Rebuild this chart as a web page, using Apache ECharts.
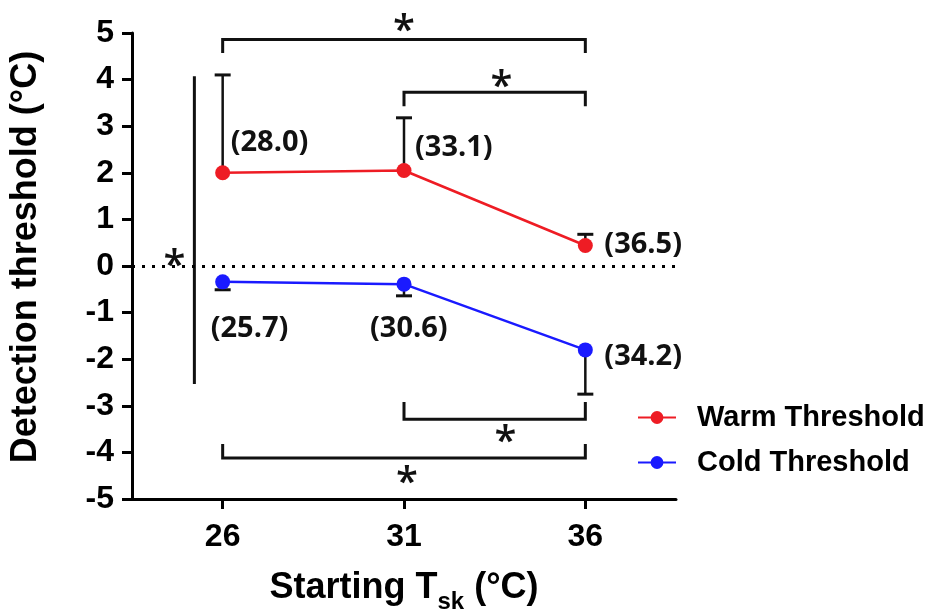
<!DOCTYPE html>
<html>
<head>
<meta charset="utf-8">
<script src="https://cdn.jsdelivr.net/npm/echarts@6/dist/echarts.min.js"></script>
<style>
  html, body { margin: 0; padding: 0; background: #fff; }
  #chart { width: 934px; height: 614px; }
</style>
</head>
<body>
<div id="chart"></div>
<script>
  // data
  const startTemps = [26, 31, 36];
  const xTicks = [26, 31, 36];
  const warmMeans = [2.0, 2.05, 0.44];
  const warmErrTop = [4.1, 3.18, 0.68];
  const coldMeans = [-0.34, -0.39, -1.8];
  const coldErrBottom = [-0.51, -0.64, -2.75];
  const warmLabels = ["(28.0)", "(33.1)", "(36.5)"];
  const coldLabels = ["(25.7)", "(30.6)", "(34.2)"];

  // significance brackets: [x from, x to, bar level, leg end]
  const brackets = [
    [26, 36, 4.86, 4.57],
    [31, 36, 3.73, 3.43],
    [31, 36, -3.29, -2.92],
    [26, 36, -4.12, -3.82],
  ];
  // asterisks [x, y]
  const stars = [[31, 5.22], [33.69, 4.02], [24.67, 0.19], [33.8, -3.6], [31.08, -4.48]];
  // vertical line between the two groups: [x, top, bottom]
  const groupLine = [25.22, 4.07, -2.53];

  // pixel offsets of the value labels from their points
  const warmOffsets = [[8, -30], [11, -23], [19, -1]];
  const coldOffsets = [[-12, 47], [-34, 45], [19, 7]];

  const FONT = "Liberation Sans";
  const RED = "#ee1c24";
  const BLUE = "#1a1aff";

  const chart = echarts.init(document.getElementById("chart"));

  function errBar(means, ends) {
    return {
      type: "custom",
      z: 1,
      silent: true,
      data: startTemps.map((x, i) => [x, means[i], ends[i]]),
      renderItem(params, api) {
        const p0 = api.coord([api.value(0), api.value(1)]);
        const p1 = api.coord([api.value(0), api.value(2)]);
        return {
          type: "group",
          children: [
            { type: "line", shape: { x1: p0[0], y1: p0[1], x2: p1[0], y2: p1[1] }, style: { stroke: "#111", lineWidth: 2.5 } },
            { type: "line", shape: { x1: p1[0] - 8, y1: p1[1], x2: p1[0] + 8, y2: p1[1] }, style: { stroke: "#111", lineWidth: 3 } },
          ],
        };
      },
    };
  }

  function valueLabels(means, labels, offsets) {
    return {
      type: "custom",
      silent: true,
      clip: false,
      data: startTemps.map((x, i) => [x, means[i]]),
      renderItem(params, api) {
        const p = api.coord([api.value(0), api.value(1)]);
        const off = offsets[params.dataIndex];
        return {
          type: "text",
          x: p[0] + off[0],
          y: p[1] + off[1],
          style: {
            text: labels[params.dataIndex],
            font: "bold 29px 'Open Sans'",
            fill: "#111",
            verticalAlign: "middle",
            align: "left",
          },
        };
      },
    };
  }

  chart.setOption({
    animation: false,
    grid: { left: 132, right: 258, top: 33, bottom: 115, outerBoundsMode: "none" },
    legend: {
      data: ["Warm Threshold", "Cold Threshold"],
      orient: "vertical",
      left: 632,
      top: 398,
      itemWidth: 38,
      itemHeight: 16,
      itemGap: 16,
      textStyle: { fontFamily: FONT, fontWeight: "bold", fontSize: 29, color: "#000", padding: [0, 0, 0, 16] },
    },
    xAxis: {
      type: "value",
      min: 23.5,
      max: 38.5,
      splitLine: { show: false },
      axisLine: { onZero: false, lineStyle: { color: "#000", width: 3 } },
      axisTick: { customValues: xTicks, length: 10, lineStyle: { width: 3, color: "#000" } },
      axisLabel: { customValues: xTicks, fontFamily: FONT, fontWeight: "bold", fontSize: 32, color: "#000", margin: 22 },
      name: "{a|Starting T}{b|sk}{a| (°C)}",
      nameLocation: "middle",
      nameGap: 75,
      nameTextStyle: {
        rich: {
          a: { fontFamily: FONT, fontWeight: "bold", fontSize: 36, color: "#000", lineHeight: 40, padding: [0, 0, 8, 0], verticalAlign: "bottom" },
          b: { fontFamily: FONT, fontWeight: "bold", fontSize: 24, color: "#000", lineHeight: 28, verticalAlign: "bottom" },
        },
      },
    },
    yAxis: {
      type: "value",
      min: -5,
      max: 5,
      interval: 1,
      splitLine: { show: false },
      axisLine: { onZero: false, lineStyle: { color: "#000", width: 3 } },
      axisTick: { length: 10, lineStyle: { width: 3, color: "#000" } },
      axisLabel: { fontFamily: FONT, fontWeight: "bold", fontSize: 32, color: "#000", margin: 18 },
      name: "Detection threshold (°C)",
      nameLocation: "middle",
      nameRotate: 90,
      nameGap: 88,
      nameTextStyle: { fontFamily: FONT, fontWeight: "bold", fontSize: 36, color: "#000", padding: [0, 0, 0, 18] },
    },
    series: [
      errBar(warmMeans, warmErrTop),
      errBar(coldMeans, coldErrBottom),
      {
        name: "Warm Threshold",
        type: "line",
        z: 3,
        data: startTemps.map((x, i) => [x, warmMeans[i]]),
        symbol: "circle",
        symbolSize: 15,
        itemStyle: { color: RED },
        lineStyle: { color: RED, width: 2.5 },
        markLine: {
          silent: true,
          symbol: "none",
          label: { show: false },
          lineStyle: { color: "#000", width: 3, type: [3, 7] },
          data: [{ yAxis: 0 }],
        },
      },
      {
        name: "Cold Threshold",
        type: "line",
        z: 3,
        data: startTemps.map((x, i) => [x, coldMeans[i]]),
        symbol: "circle",
        symbolSize: 15,
        itemStyle: { color: BLUE },
        lineStyle: { color: BLUE, width: 2.5 },
      },
      valueLabels(warmMeans, warmLabels, warmOffsets),
      valueLabels(coldMeans, coldLabels, coldOffsets),
      {
        // significance brackets
        type: "custom",
        silent: true,
        clip: false,
        data: brackets,
        renderItem(params, api) {
          const a = api.coord([api.value(0), api.value(2)]);
          const b = api.coord([api.value(1), api.value(2)]);
          const legY = api.coord([api.value(0), api.value(3)])[1];
          return {
            type: "polyline",
            shape: { points: [[a[0], legY], a, b, [b[0], legY]] },
            style: { stroke: "#111", lineWidth: 3, fill: null },
          };
        },
      },
      {
        type: "custom",
        silent: true,
        clip: false,
        data: [groupLine],
        renderItem(params, api) {
          const p0 = api.coord([api.value(0), api.value(1)]);
          const p1 = api.coord([api.value(0), api.value(2)]);
          return {
            type: "line",
            shape: { x1: p0[0], y1: p0[1], x2: p1[0], y2: p1[1] },
            style: { stroke: "#111", lineWidth: 3 },
          };
        },
      },
      {
        type: "custom",
        silent: true,
        clip: false,
        data: stars,
        renderItem(params, api) {
          const p = api.coord([api.value(0), api.value(1)]);
          return {
            type: "text",
            x: p[0],
            y: p[1] + 9,
            style: { text: "*", font: "600 40px 'Open Sans'", fill: "#111", align: "center", verticalAlign: "middle" },
          };
        },
      },
    ],
  });
</script>
</body>
</html>
